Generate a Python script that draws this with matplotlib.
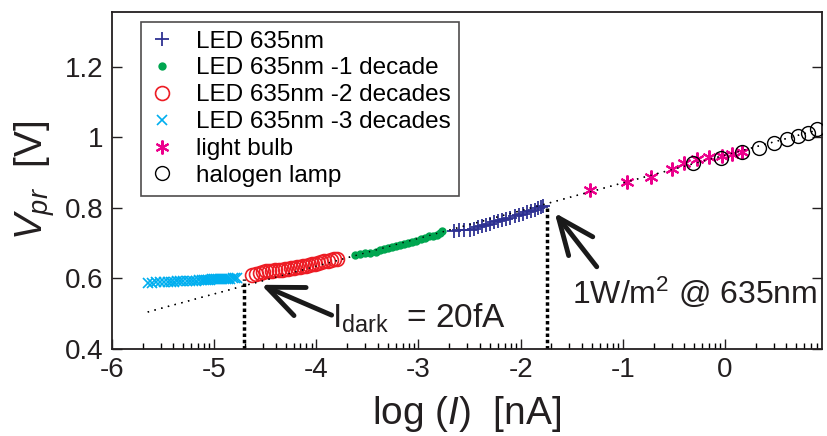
import numpy as np
import matplotlib
matplotlib.use('Agg')
import matplotlib.pyplot as plt

plt.rcParams['font.family'] = ['Liberation Sans', 'DejaVu Sans']
plt.rcParams['mathtext.fontset'] = 'custom'
plt.rcParams['mathtext.rm'] = 'Liberation Sans'
plt.rcParams['mathtext.it'] = 'Liberation Sans:italic'
plt.rcParams['axes.unicode_minus'] = False

# LED 635nm -3 decades
x_led3 = [-5.65, -5.61, -5.57, -5.53, -5.49, -5.45, -5.42, -5.39, -5.36, -5.33,
          -5.30, -5.27, -5.24, -5.21, -5.18, -5.15, -5.12, -5.10, -5.08, -5.06,
          -5.04, -5.02, -5.00, -4.98, -4.96, -4.94, -4.92, -4.90, -4.88, -4.86,
          -4.84, -4.82, -4.80, -4.78]
y_led3 = [0.588, 0.588, 0.589, 0.589, 0.590, 0.590, 0.591, 0.591, 0.592, 0.592,
          0.593, 0.593, 0.593, 0.594, 0.594, 0.595, 0.595, 0.595, 0.596, 0.596,
          0.596, 0.597, 0.597, 0.597, 0.598, 0.598, 0.598, 0.598, 0.599, 0.599,
          0.599, 0.600, 0.600, 0.600]

# LED 635nm -2 decades
x_led2 = [-4.63, -4.59, -4.55, -4.52, -4.49, -4.46, -4.43, -4.40, -4.37, -4.34,
          -4.31, -4.28, -4.25, -4.22, -4.19, -4.16, -4.13, -4.10, -4.07, -4.04,
          -4.01, -3.98, -3.95, -3.92, -3.89, -3.86, -3.83, -3.80]
y_led2 = [0.609, 0.613, 0.616, 0.618, 0.620, 0.621, 0.622, 0.623, 0.624, 0.625,
          0.626, 0.627, 0.629, 0.630, 0.631, 0.633, 0.634, 0.636, 0.638, 0.640,
          0.642, 0.644, 0.646, 0.648, 0.650, 0.652, 0.654, 0.656]

# LED 635nm -1 decade
x_led1 = [-3.62, -3.57, -3.52, -3.47, -3.42, -3.38, -3.34, -3.30, -3.26, -3.22,
          -3.18, -3.14, -3.10, -3.06, -3.02, -2.98, -2.94, -2.90, -2.86, -2.82,
          -2.79, -2.77]
y_led1 = [0.666, 0.670, 0.672, 0.672, 0.675, 0.681, 0.684, 0.686, 0.689, 0.692,
          0.695, 0.698, 0.701, 0.704, 0.707, 0.711, 0.715, 0.719, 0.721, 0.724,
          0.729, 0.734]

# LED 635nm
x_led0 = [-2.65, -2.60, -2.55, -2.50, -2.46, -2.42, -2.38, -2.34, -2.30, -2.26,
          -2.22, -2.18, -2.14, -2.10, -2.06, -2.02, -1.98, -1.94, -1.90, -1.86,
          -1.83, -1.80, -1.78]
y_led0 = [0.734, 0.736, 0.737, 0.738, 0.741, 0.746, 0.748, 0.751, 0.755, 0.759,
          0.762, 0.765, 0.769, 0.772, 0.776, 0.779, 0.783, 0.787, 0.791, 0.795,
          0.799, 0.802, 0.806]

# light bulb
x_bulb = [-1.32, -0.96, -0.72, -0.52, -0.40, -0.27, -0.16, -0.03, 0.07, 0.17]
y_bulb = [0.851, 0.874, 0.888, 0.910, 0.928, 0.939, 0.945, 0.948, 0.953, 0.959]

# halogen lamp
x_halo = [-0.31, -0.04, 0.17, 0.33, 0.48, 0.61, 0.71, 0.81, 0.90]
y_halo = [0.928, 0.942, 0.959, 0.970, 0.984, 0.995, 1.004, 1.013, 1.024]

# fit line
x_fit = [-5.65, 0.9]
y_fit = [0.505, 1.020]

x_dark, y_dark = -4.71, 0.598
x_1w, y_1w = -1.745, 0.800

fig = plt.figure(figsize=(8.27, 4.36), dpi=100)
ax = fig.add_axes([0.1354, 0.1995, 0.8586, 0.773])

ax.plot(x_fit, y_fit, color='black', ls=(0, (1, 4)), lw=1.0, zorder=1)

ax.plot(x_led0, y_led0, '+', color='#2e3192', ms=10, mew=1.3, label='LED 635nm', zorder=3)
ax.plot(x_led1, y_led1, 'o', color='#00a650', ms=6, mew=0, label='LED 635nm -1 decade', zorder=3)
ax.plot(x_led2, y_led2, 'o', mfc='none', mec='#ed1c24', ms=10, mew=1.2, label='LED 635nm -2 decades', zorder=3)
ax.plot(x_led3, y_led3, 'x', color='#00aeef', ms=7, mew=1.2, label='LED 635nm -3 decades', zorder=3)
ax.plot(x_bulb, y_bulb, '*', color='#ec008c', ms=0, label='light bulb')
ax.plot(x_bulb, y_bulb, marker=(6, 2, 0), ls='none', color='#ec008c', ms=10, mew=1.5, zorder=3)
ax.plot(x_halo, y_halo, 'o', mfc='none', mec='black', ms=10, mew=1.0, label='halogen lamp', zorder=3)

# fit line dots on top
ax.plot(x_fit, y_fit, color='black', ls=(0, (1, 4)), lw=1.0, zorder=4)

ax.plot([x_dark, x_dark], [0.4, y_dark], color='black', ls=(0, (1, 0.8)), lw=2.5, zorder=2)
ax.plot([x_1w, x_1w], [0.4, y_1w], color='black', ls=(0, (1, 0.8)), lw=2.5, zorder=2)

arrow = dict(arrowstyle='->, head_length=2.6, head_width=1.1', lw=3.5, color='#1a1a1a',
             shrinkA=0, shrinkB=0)
ax.annotate('', xy=(-4.54, 0.582), xytext=(-3.85, 0.496), arrowprops=arrow)
ax.annotate('', xy=(-1.667, 0.786), xytext=(-1.255, 0.633), arrowprops=arrow)
ax.text(-3.85, 0.462, r'I$_{\rm dark}$  = 20fA', fontsize=24, color='#231f20')
ax.text(-1.50, 0.530, r'1W/m$^2$ @ 635nm', fontsize=23, color='#231f20')

ax.set_xlim(-6, 0.95)
ax.set_ylim(0.4, 1.355)
ax.set_xticks([-6, -5, -4, -3, -2, -1, 0])
ax.set_xticklabels(['-6', '-5', '-4', '-3', '-2', '-1', '0'])
ax.set_yticks([0.4, 0.6, 0.8, 1.0, 1.2])
ax.set_yticklabels(['0.4', '0.6', '0.8', '1', '1.2'])
minor = [d + np.log10(k) for d in range(-6, 1) for k in range(2, 10) if d + np.log10(k) < 0.95]
ax.set_xticks(minor, minor=True)
ax.tick_params(axis='both', which='major', direction='in', length=7, width=1,
               labelsize=20, right=True, colors='#231f20', pad=6)
ax.tick_params(axis='x', which='minor', direction='in', length=4, width=1)
for s in ax.spines.values():
    s.set_linewidth(1.3)
    s.set_color('#231f20')

ax.set_xlabel(r'log ($I$)  [nA]', fontsize=28, color='#231f20', labelpad=8)
ax.set_ylabel(r'$V_{pr}$  [V]', fontsize=28, color='#231f20', labelpad=6)

leg = ax.legend(loc='upper left', bbox_to_anchor=(0.041, 0.97), fontsize=17.5,
                frameon=True, fancybox=False, edgecolor='#231f20', handlelength=1.0,
                handletextpad=0.9, labelspacing=0.2, borderpad=0.35, borderaxespad=0,
                markerscale=1.0)
leg.get_frame().set_linewidth(1.2)
# show the asterisk marker in legend
leg.legend_handles[4].set_marker((6, 2, 0))
leg.legend_handles[4].set_markersize(10)
leg.legend_handles[4].set_markeredgewidth(1.5)

fig.savefig('out.png', dpi=100)
